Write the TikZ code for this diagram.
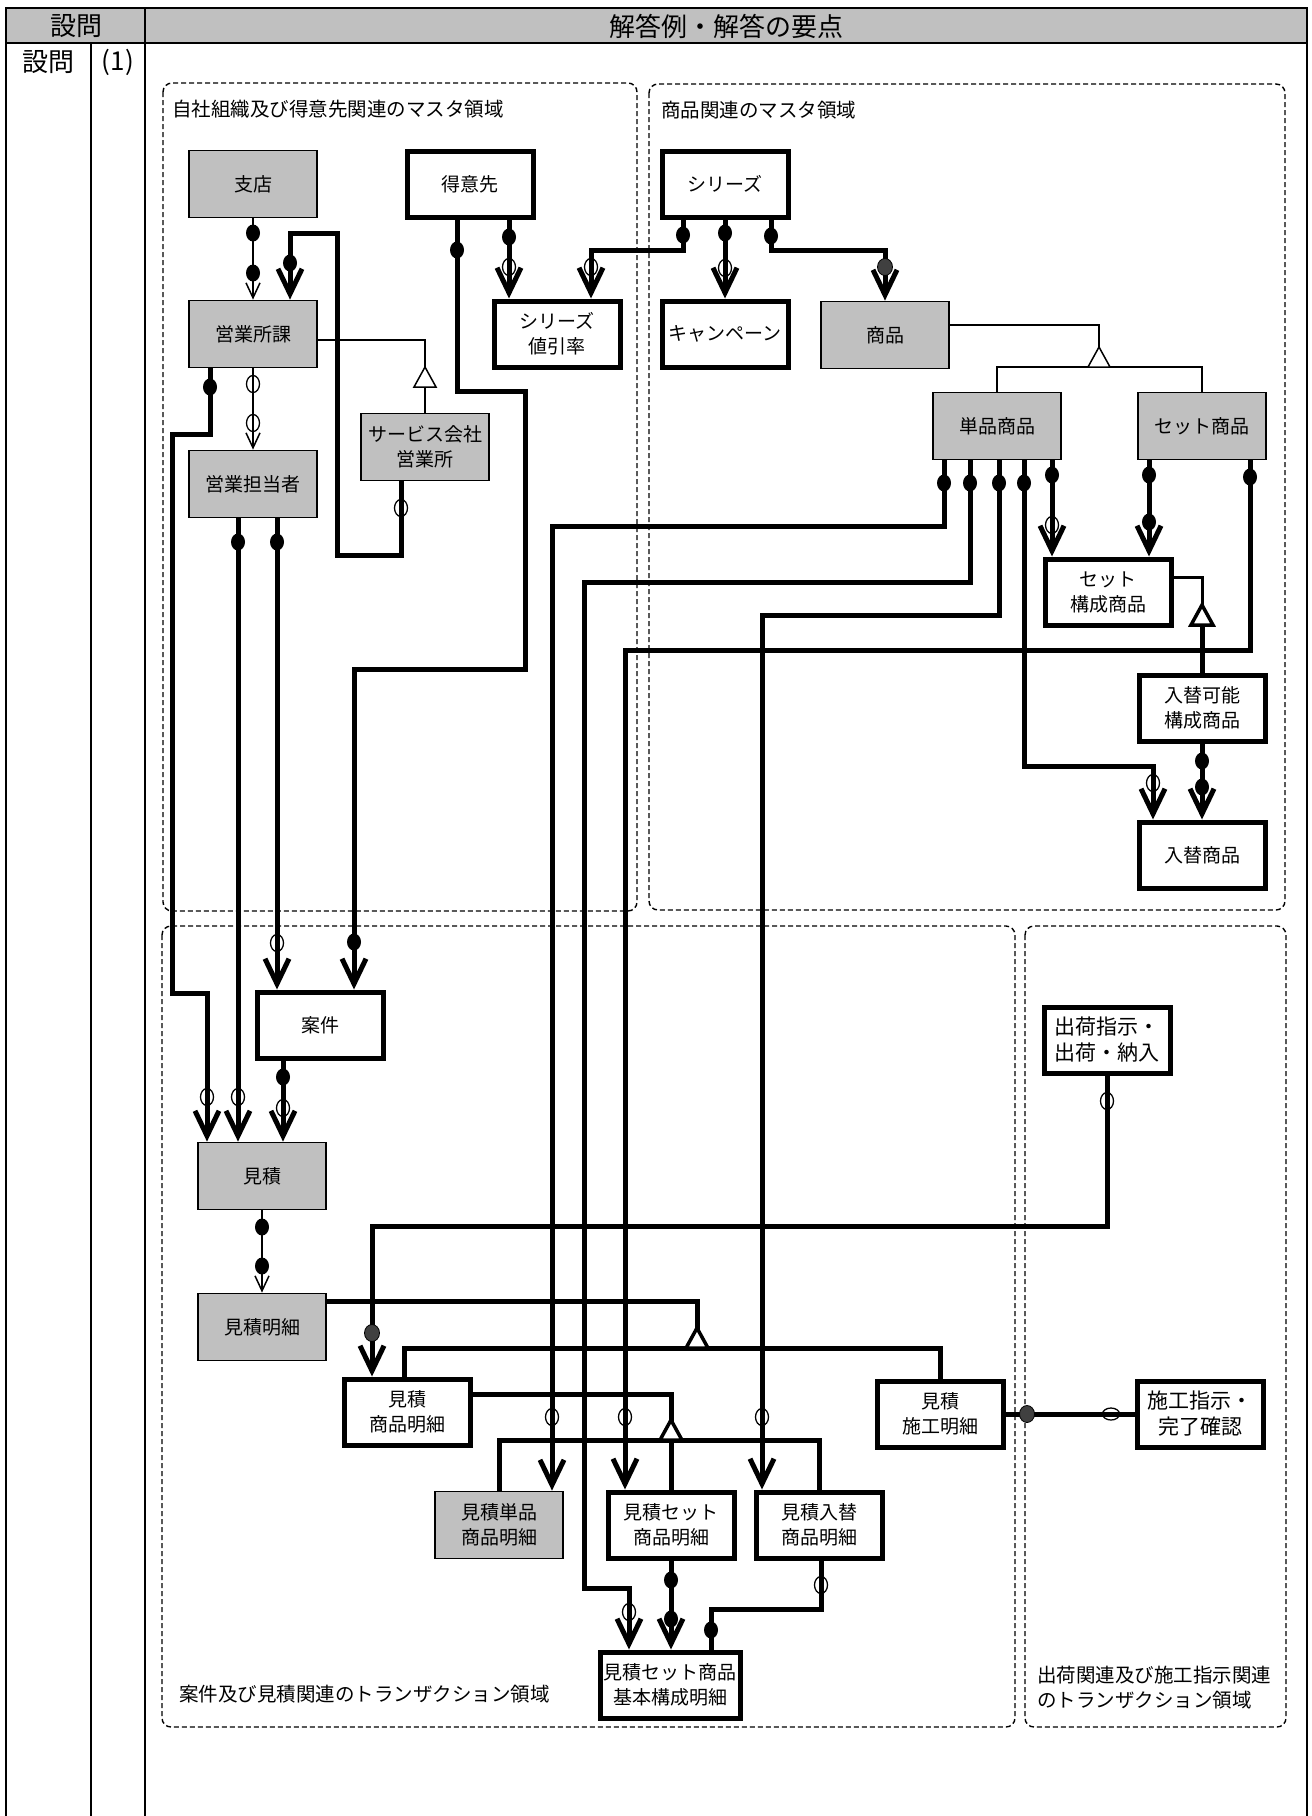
\documentclass[tikz,border=0pt]{standalone}
\usepackage{fontspec}
\setmainfont{Noto Sans CJK JP}
\usetikzlibrary{arrows.meta}
\definecolor{boxgray}{HTML}{C0C0C0}
\definecolor{dotgray}{HTML}{404040}
\def\onedot(#1){\fill (#1) ellipse (7pt and 8.5pt);}
\def\zerodot(#1){\draw[line width=1.3pt] (#1) ellipse (6.5pt and 8.5pt);}
\def\zerodoth(#1){\draw[line width=1.3pt] (#1) ellipse (8.5pt and 6pt);}
\def\greydot(#1){\filldraw[fill=dotgray, line width=0.8pt] (#1) ellipse (7.5pt and 8.5pt);}
\def\isa[#1](#2){\draw[#1, fill=white] (#2) -- ++(-11,20) -- ++(22,0) -- cycle;}

\tikzset{
  ent/.style={draw, line width=5pt, fill=white, minimum width=126pt, minimum height=66pt,
    inner sep=0pt, align=center, font=\fontsize{19}{25}\selectfont},
  grayent/.style={ent, line width=1.8pt, fill=boxgray, minimum width=128pt, minimum height=67pt},
  rel/.style={line width=5pt},
  thinrel/.style={line width=1.5pt},
  many/.style={-{Straight Barb[length=25pt,width=24pt]}},
  thinmany/.style={-{Straight Barb[length=15pt,width=14pt]}},
  area/.style={dash pattern=on 5pt off 3pt, line width=1.4pt, rounded corners=9pt},
  arealabel/.style={anchor=west, inner sep=0pt, font=\fontsize{19.5}{25}\selectfont},
  tbl/.style={line width=2.2pt},
  hdtext/.style={inner sep=0pt, font=\fontsize{26}{30}\selectfont}
}

\begin{document}
\begin{tikzpicture}[x=1pt, y=-1pt]
		%%%%% START %%%%%
		\useasboundingbox (0,0) rectangle (1312,1816);
		
		\fill[boxgray] (6,8) rectangle (1307,43);
		\draw[tbl] (6,1816) -- (6,8) -- (1307,8) -- (1307,1816);
		\draw[tbl] (6,43) -- (1307,43);
		\draw[tbl] (145,8) -- (145,1816);
		\draw[tbl] (91,43) -- (91,1816);
		\node[hdtext] (hdq) at (76,26) {設問};
		\node[hdtext] (hdans) at (726,26) {解答例・解答の要点};
		\node[hdtext] (rowq) at (49,62) {設問};
		\node[hdtext] (rowno) at (118,62) {(1)};
		
		\draw[area] (163,83) rectangle (637,911);
		\draw[area] (649,84) rectangle (1285,910);
		\draw[area] (162,926) rectangle (1015,1727);
		\draw[area] (1025,926) rectangle (1286,1727);
		\node[arealabel] (lbljisha) at (172,109) {自社組織及び得意先関連のマスタ領域};
		\node[arealabel] (lblshohin) at (661,110) {商品関連のマスタ領域};
		\node[arealabel] (lblanken) at (179,1694) {案件及び見積関連のトランザクション領域};
		\node[arealabel, align=left] (lblshukka) at (1037,1688) {出荷関連及び施工指示関連\\のトランザクション領域};
		
		\node[grayent] (shiten) at (253,184) {支店};
		\node[ent] (tokui) at (470,184) {得意先};
		\node[grayent] (eigyoka) at (253,334) {営業所課};
		\node[ent] (nebiki) at (557,334) {シリーズ\\値引率};
		\node[grayent] (service) at (425,447) {サービス会社\\営業所};
		\node[grayent] (tanto) at (253,484) {営業担当者};
		\node[ent] (series) at (725,184) {シリーズ};
		\node[ent] (campaign) at (725,334) {キャンペーン};
		\node[grayent] (shohin) at (885,335) {商品};
		\node[grayent] (tanpin) at (997,426) {単品商品};
		\node[grayent] (setshohin) at (1202,426) {セット商品};
		\node[ent] (setkosei) at (1108,592) {セット\\構成商品};
		\node[ent] (irekaeka) at (1202,708) {入替可能\\構成商品};
		\node[ent] (irekae) at (1202,855) {入替商品};
		
		\node[ent] (anken) at (320,1025) {案件};
		\node[grayent] (mitsu) at (262,1176) {見積};
		\node[grayent] (meisai) at (262,1327) {見積明細};
		\node[ent] (shmeisai) at (407,1412) {見積\\商品明細};
		\node[ent] (sekomeisai) at (940,1414) {見積\\施工明細};
		\node[grayent] (mtanpin) at (499,1525) {見積単品\\商品明細};
		\node[ent] (mset) at (671,1525) {見積セット\\商品明細};
		\node[ent] (mirekae) at (819,1525) {見積入替\\商品明細};
		\node[ent, minimum width=140pt] (mkihon) at (670,1685) {見積セット商品\\基本構成明細};
		\node[ent, font=\fontsize{21}{26}\selectfont] (shukka) at (1107,1040) {出荷指示・\\出荷・納入};
		\node[ent, font=\fontsize{21}{26}\selectfont] (seko) at (1200,1414) {施工指示・\\完了確認};
		
		% organisation side
		\draw[thinrel, thinmany] (shiten.south) -- (eigyoka.north);
		\onedot(253,233) \onedot(253,273)
		\draw[thinrel, thinmany] (eigyoka.south) -- (tanto.north);
		\zerodot(253,384) \zerodot(253,423)
		\draw[thinrel] ([yshift=-6pt]eigyoka.east) -| (service.north);
		\isa[line width=1.5pt](425,367)
		\draw[rel, many] ([xshift=-24pt]service.south) -- (401,555) -- (337,555) -- (337,233) -- (290,233) -- ([xshift=37pt]eigyoka.north);
		\zerodot(401,508) \onedot(290,263)
		\draw[rel, many] ([xshift=-43pt]eigyoka.south) -- (210,434) -- (172,434) -- (172,993) -- (207,993) -- ([xshift=-55pt]mitsu.north);
		\onedot(210,387) \zerodot(207,1097)
		\draw[rel, many] ([xshift=-15pt]tanto.south) -- ([xshift=-24pt]mitsu.north);
		\onedot(238,542) \zerodot(238,1097)
		\draw[rel, many] ([xshift=24pt]tanto.south) -- ([xshift=-43pt]anken.north);
		\onedot(277,542) \zerodot(277,943)
		\draw[rel, many] ([xshift=-13pt]tokui.south) -- (457,391) -- (525,391) -- (525,669) -- (354,669) -- ([xshift=34pt]anken.north);
		\onedot(457,250) \onedot(354,942)
		\draw[rel, many] ([xshift=39pt]tokui.south) -- ([xshift=-48pt]nebiki.north);
		\onedot(509,237) \zerodot(509,267)
		\draw[rel, many] ([xshift=-37pt]anken.south) -- ([xshift=21pt]mitsu.north);
		\onedot(283,1077) \zerodot(283,1108)
		
		% product side
		\draw[rel, many] ([xshift=-42pt]series.south) -- (683,250) -- (591,250) -- ([xshift=34pt]nebiki.north);
		\onedot(683,235) \zerodot(591,267)
		\draw[rel, many] (series.south) -- (campaign.north);
		\onedot(725,233) \zerodot(725,268)
		\draw[rel, many] ([xshift=46pt]series.south) -- (771,250) -- (885,250) -- (shohin.north);
		\onedot(771,236) \greydot(885,267)
		\draw[thinrel] ([yshift=10pt]shohin.east) -| (1099,367);
		\draw[thinrel] (tanpin.north) -- (997,367) -- (1202,367) -- (setshohin.north);
		\isa[line width=1.5pt](1099,347)
		
		\draw[rel, many] ([xshift=-53pt]tanpin.south) -- (944,526) -- (552,526) -- ([xshift=53pt]mtanpin.north);
		\onedot(944,483) \zerodot(552,1417)
		\draw[rel, many] ([xshift=-27pt]tanpin.south) -- (970,582) -- (584,582) -- (584,1588) -- (629,1588) -- ([xshift=-41pt]mkihon.north);
		\onedot(970,483) \zerodot(629,1612)
		\draw[rel, many] ([xshift=2pt]tanpin.south) -- (999,615) -- (762,615) -- ([xshift=-57pt]mirekae.north);
		\onedot(999,483) \zerodot(762,1417)
		\draw[rel, many] ([xshift=27pt]tanpin.south) -- (1024,766) -- (1153,766) -- ([xshift=-49pt]irekae.north);
		\onedot(1024,483) \zerodot(1153,783)
		\draw[rel, many] ([xshift=55pt]tanpin.south) -- ([xshift=-56pt]setkosei.north);
		\onedot(1052,475) \zerodot(1052,525)
		
		\draw[rel, many] ([xshift=-53pt]setshohin.south) -- ([xshift=41pt]setkosei.north);
		\onedot(1149,475) \onedot(1149,522)
		\draw[rel, many] ([xshift=48pt]setshohin.south) -- (1250,650) -- (625,650) -- ([xshift=-46pt]mset.north);
		\onedot(1250,477) \zerodot(625,1417)
		
		\draw[line width=3pt] ([yshift=15pt]setkosei.east) -| (1202,605);
		\draw[rel] (irekaeka.north) -- (1202,624);
		\isa[line width=3.5pt](1202,605)
		\draw[rel, many] (irekaeka.south) -- (irekae.north);
		\onedot(1202,761) \onedot(1202,787)
		
		% estimate side
		\draw[thinrel, thinmany] (mitsu.south) -- (meisai.north);
		\onedot(262,1227) \onedot(262,1266)
		\draw[rel] ([yshift=26pt]meisai.east) -| (697,1330);
		\draw[rel] ([xshift=-3pt]shmeisai.north) -- (404,1348) -- (940,1348) -- (sekomeisai.north);
		\isa[line width=3.5pt](697,1328)
		\draw[rel, many] (shukka.south) -- (1107,1226) -- (372,1226) -- ([xshift=-35pt]shmeisai.north);
		\zerodot(1107,1101) \greydot(372,1333)
		\draw[rel] (sekomeisai.east) -- (seko.west);
		\greydot(1027,1414) \zerodoth(1111,1414)
		
		\draw[rel] ([yshift=18pt]shmeisai.east) -| (671,1422);
		\draw[rel] (mtanpin.north) -- (499,1440) -- (819,1440) -- (mirekae.north);
		\draw[rel] (671,1440) -- (mset.north);
		\isa[line width=3.5pt](671,1420)
		\draw[rel, many] (mset.south) -- ([xshift=1pt]mkihon.north);
		\onedot(671,1580) \onedot(671,1619)
		\draw[rel] ([xshift=2pt]mirekae.south) -- (821,1609) -- (711,1609) -- ([xshift=41pt]mkihon.north);
		\zerodot(821,1585) \onedot(711,1630)
		
		%%%%% END %%%%%
\end{tikzpicture}
\end{document}
